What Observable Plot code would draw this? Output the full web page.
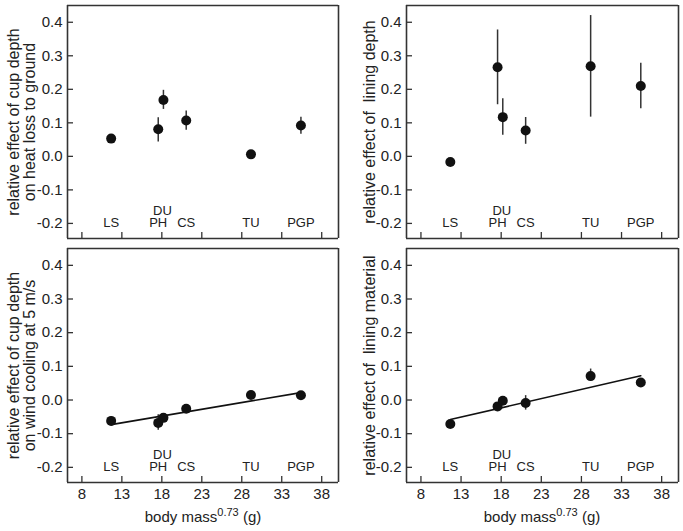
<!DOCTYPE html>
<html><head><meta charset="utf-8">
<script src="https://cdn.jsdelivr.net/npm/d3@7"></script>
<script src="https://cdn.jsdelivr.net/npm/@observablehq/plot@0.6"></script>
<style>
body{margin:0;background:#fff;font-family:"Liberation Sans",Arial,sans-serif;}
#root{position:relative;width:683px;height:531px;overflow:hidden;background:#fff}
.p{position:absolute}
.xl{position:absolute;font-size:15px;color:#222;white-space:nowrap;transform:translateX(-50%);line-height:18px}
.xl sup{font-size:11px;vertical-align:0;position:relative;top:-6px}
</style></head><body><div id="root"></div>
<script>
// Species and body mass^0.73 (g)
const species = ["LS", "PH", "DU", "CS", "TU", "PGP"];
const mass = [11.66, 17.55, 18.2, 21.05, 29.15, 35.4];

// Panel A: cup depth on heat loss to ground
const heatGround = [0.053, 0.081, 0.168, 0.107, 0.006, 0.092];
const heatGroundLo = [0.043, 0.043, 0.140, 0.078, -0.002, 0.066];
const heatGroundHi = [0.063, 0.115, 0.197, 0.135, 0.014, 0.117];

// Panel B: lining depth
const liningDepth = [-0.017, 0.266, 0.117, 0.077, 0.269, 0.210];
const liningDepthLo = [-0.027, 0.154, 0.063, 0.036, 0.117, 0.142];
const liningDepthHi = [-0.007, 0.377, 0.172, 0.116, 0.420, 0.278];

// Panel C: cup depth on wind cooling at 5 m/s
const windCooling = [-0.062, -0.068, -0.053, -0.026, 0.015, 0.014];
const windCoolingLo = [-0.074, -0.090, -0.062, -0.033, 0.008, 0.008];
const windCoolingHi = [-0.050, -0.044, -0.045, -0.019, 0.022, 0.020];
const windFitX = [11.66, 35.4];
const windFitY = [-0.073, 0.022];

// Panel D: lining material
const liningMaterial = [-0.071, -0.019, -0.002, -0.009, 0.071, 0.052];
const liningMaterialLo = [-0.080, -0.026, -0.010, -0.030, 0.055, 0.045];
const liningMaterialHi = [-0.062, -0.012, 0.006, 0.013, 0.092, 0.059];
const materialFitX = [11.66, 35.4];
const materialFitY = [-0.058, 0.072];

// Axes
const xTicks = [8, 13, 18, 23, 28, 33, 38];
const yTicks = [-0.2, -0.1, 0.0, 0.1, 0.2, 0.3, 0.4];
const xDomain = [6.2, 40.1];
const yDomain = [-0.245, 0.45];
const xLabel = "body mass";
const xLabelSup = "0.73";
const xLabelUnit = " (g)";

const font = '"Liberation Sans", Arial, sans-serif';
const ink = "#222";
const frameInk = "#333";

function panel({vals, lo, hi, fitX, fitY, ylabel, ylabelDx, bottom, left, top}) {
  const data = species.map((s, i) => ({s, x: mass[i], y: vals[i], lo: lo[i], hi: hi[i]}));
  const fit = fitX ? fitX.map((x, i) => ({x, y: fitY[i]})) : [];
  const marks = [
    // frame drawn from the scale domains
    Plot.ruleX(xDomain, {x: d => d, stroke: frameInk, strokeWidth: 1.6}),
    Plot.ruleY(yDomain, {y: d => d, stroke: frameInk, strokeWidth: 1.6}),
    Plot.axisY(yTicks, {anchor: "left", tickSize: -6, tickPadding: 11, tickFormat: d => d.toFixed(1),
      fontSize: 15, fill: ink, stroke: frameInk, strokeWidth: 1.3, label: null}),
    Plot.axisX(xTicks, {anchor: "bottom", tickSize: -6, tickPadding: 12,
      tickFormat: bottom ? (d => String(d)) : (() => ""), fontSize: 15, fill: ink, stroke: frameInk, strokeWidth: 1.3, label: null}),
    Plot.text(data.filter(d => d.s !== "DU"), {x: "x", y: () => yTicks[0], text: "s", fontSize: 13, fill: ink, dy: -1}),
    Plot.text(data.filter(d => d.s === "DU"), {x: "x", y: () => yTicks[0], text: "s", fontSize: 13, fill: ink, dy: -13, dx: -1}),
    Plot.ruleX(data, {x: "x", y1: "lo", y2: "hi", stroke: "#333", strokeWidth: 1.5}),
    Plot.line(fit, {x: "x", y: "y", stroke: "#111", strokeWidth: 1.6}),
    Plot.dot(data, {x: "x", y: "y", r: 5, fill: "#111", stroke: "none"}),
    Plot.text([ylabel], {frameAnchor: "left", textAnchor: "middle", dx: ylabelDx, rotate: -90, text: d => d,
      fontSize: 16, fill: ink, lineHeight: 1.0})
  ];
  const h = bottom ? 288 : 243;
  const chart = Plot.plot({
    width: 341, height: h,
    marginLeft: left === 0 ? 67 : 66, marginRight: 3, marginTop: 5, marginBottom: bottom ? 49 : 5,
    style: {fontFamily: font, background: "transparent", overflow: "visible"},
    x: {domain: xDomain, axis: null},
    y: {domain: yDomain, axis: null},
    marks
  });
  chart.classList.add("p");
  chart.style.left = left + "px";
  chart.style.top = top + "px";
  document.getElementById("root").appendChild(chart);
  if (bottom) {
    const d = document.createElement("div");
    d.className = "xl";
    d.style.left = (left + (left === 0 ? 67 : 66) + 136) + "px";
    d.style.top = (top + 265) + "px";
    d.appendChild(document.createTextNode(xLabel));
    const sup = document.createElement("sup"); sup.textContent = xLabelSup; d.appendChild(sup);
    d.appendChild(document.createTextNode(xLabelUnit));
    document.getElementById("root").appendChild(d);
  }
}

panel({vals: heatGround, lo: heatGroundLo, hi: heatGroundHi,
  ylabel: "relative effect of cup depth\non heat loss to ground", ylabelDx: -46, bottom: false, left: 0, top: 0});
panel({vals: liningDepth, lo: liningDepthLo, hi: liningDepthHi,
  ylabel: "relative effect of \u00a0lining depth", ylabelDx: -37, bottom: false, left: 340, top: 0});
panel({vals: windCooling, lo: windCoolingLo, hi: windCoolingHi, fitX: windFitX, fitY: windFitY,
  ylabel: "relative effect of cup depth\non wind cooling at 5 m/s", ylabelDx: -46, bottom: true, left: 0, top: 243});
panel({vals: liningMaterial, lo: liningMaterialLo, hi: liningMaterialHi, fitX: materialFitX, fitY: materialFitY,
  ylabel: "relative effect of \u00a0lining material", ylabelDx: -37, bottom: true, left: 340, top: 243});
</script></body></html>
